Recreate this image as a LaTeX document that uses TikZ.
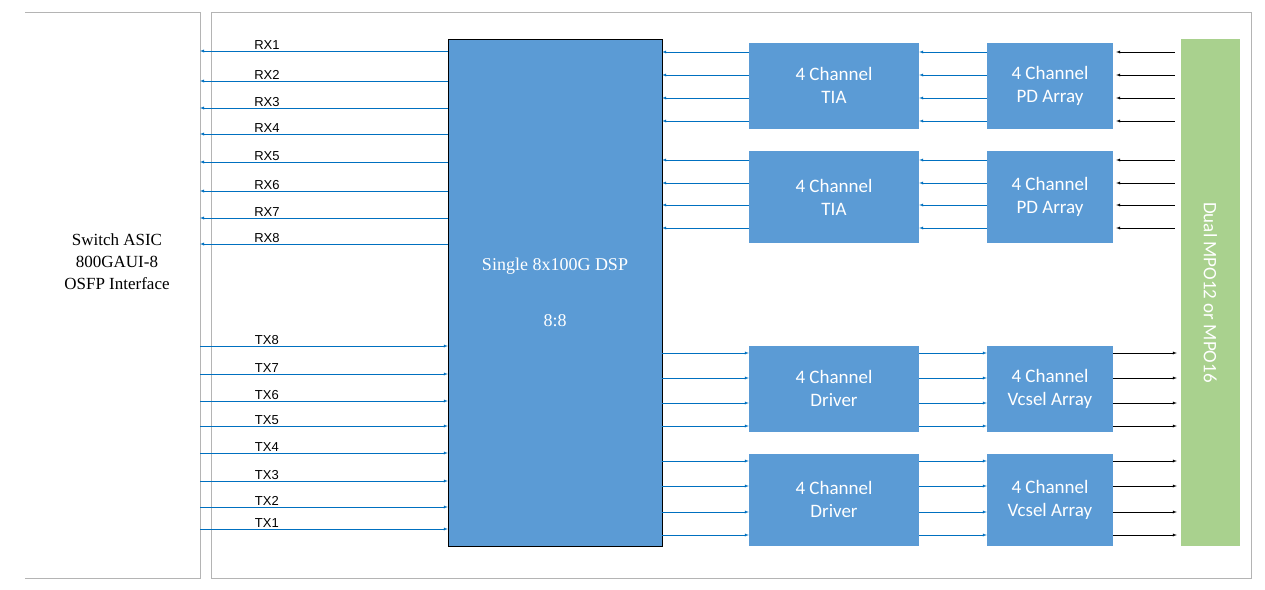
\documentclass[tikz,border=0pt]{standalone}
\usepackage{fontspec}
\setmainfont{Liberation Serif}
\setsansfont{Carlito}
\newfontfamily\arialfont{Liberation Sans}
\usepackage{tikz}
\usetikzlibrary{positioning}
\definecolor{boxblue}{RGB}{91,155,213}
\definecolor{lineblue}{RGB}{0,112,192}
\definecolor{fibergreen}{RGB}{169,209,142}
\definecolor{framegray}{RGB}{180,180,180}

\begin{document}
\begin{tikzpicture}[
    x=1pt, y=-1pt,
    block/.style={rectangle, draw=none, fill=boxblue, text=white, inner sep=0pt, font=\sffamily\fontsize{19}{23}\selectfont, align=center},
    lane/.style={draw=lineblue, -latex},
    fiber/.style={draw=black, -latex},
    lbl/.style={font=\arialfont\fontsize{13}{13}\selectfont, anchor=south, inner sep=1pt}
]
    \useasboundingbox (0,0) rectangle (1265,589);

    % Frames
    \draw[framegray, thick] (25,12) -- (200,12) -- (200,578) -- (25,578);
    \draw[framegray, thick] (211,12) rectangle (1251,578);
    \coordinate (asic) at (200,0);
    \node[align=center, font=\fontsize{17}{22}\selectfont] (asictext) at (117,262) {Switch ASIC\\800GAUI-8\\OSFP Interface};

    % DSP
    \node[block, draw=black, minimum width=214pt, minimum height=507pt] (dsp) at (555,292.5) {};
    \node[text=white, font=\fontsize{18}{22}\selectfont] (dsptext) at (555,266) {Single 8x100G DSP};
    \node[text=white, font=\fontsize{18}{22}\selectfont] (dspratio) at (555,321) {8:8};

    % Optics
    \node[block, minimum width=170pt, minimum height=86pt] (tia1) at (834,85.5) {4 Channel\\TIA};
    \node[block, minimum width=170pt, minimum height=92pt] (tia2) at (834,197) {4 Channel\\TIA};
    \node[block, minimum width=126pt, minimum height=86pt] (pd1) at (1050,85.5) {4 Channel\\PD Array};
    \node[block, minimum width=126pt, minimum height=92pt] (pd2) at (1050,197) {4 Channel\\PD Array};
    \node[block, minimum width=170pt, minimum height=86pt] (drv1) at (834,388.5) {4 Channel\\Driver};
    \node[block, minimum width=170pt, minimum height=92pt] (drv2) at (834,499.5) {4 Channel\\Driver};
    \node[block, minimum width=126pt, minimum height=86pt] (vcsel1) at (1050,388.5) {4 Channel\\Vcsel Array};
    \node[block, minimum width=126pt, minimum height=92pt] (vcsel2) at (1050,499.5) {4 Channel\\Vcsel Array};
    \node[block, fill=fibergreen, minimum width=59pt, minimum height=507pt] (mpo) at (1210.5,292.5) {};
    \node[rotate=-90, text=white, font=\sffamily\fontsize{19}{23}\selectfont] (mpotext) at (1210.5,292.5) {Dual MPO12 or MPO16};

    % Host lanes
    \foreach \y [count=\i] in {51,81,108,134,162,191,218,244} {
        \coordinate (row) at (0,\y);
        \draw[lane] (dsp.west |- row) -- node[lbl, pos=0.73] {RX\i} (asic |- row);
    }
    \foreach \y/\n in {346/8,374/7,401/6,426/5,453/4,481/3,507/2,529/1} {
        \coordinate (row) at (0,\y);
        \draw[lane] (asic |- row) -- node[lbl, pos=0.27] {TX\n} (dsp.west |- row);
    }

    % Receive path
    \foreach \y in {52,75,98,121} {
        \coordinate (row) at (0,\y);
        \draw[lane] (tia1.west |- row) -- (dsp.east |- row);
        \draw[lane] (pd1.west |- row) -- (tia1.east |- row);
        \draw[fiber] ([xshift=-6pt]mpo.west |- row) -- ([xshift=3pt]pd1.east |- row);
    }
    \foreach \y in {160,183,205,228} {
        \coordinate (row) at (0,\y);
        \draw[lane] (tia2.west |- row) -- (dsp.east |- row);
        \draw[lane] (pd2.west |- row) -- (tia2.east |- row);
        \draw[fiber] ([xshift=-6pt]mpo.west |- row) -- ([xshift=3pt]pd2.east |- row);
    }

    % Transmit path
    \foreach \y in {353,378,403,426} {
        \coordinate (row) at (0,\y);
        \draw[lane] (dsp.east |- row) -- (drv1.west |- row);
        \draw[lane] (drv1.east |- row) -- (vcsel1.west |- row);
        \draw[fiber] (vcsel1.east |- row) -- ([xshift=-4pt]mpo.west |- row);
    }
    \foreach \y in {461,486,512,535} {
        \coordinate (row) at (0,\y);
        \draw[lane] (dsp.east |- row) -- (drv2.west |- row);
        \draw[lane] (drv2.east |- row) -- (vcsel2.west |- row);
        \draw[fiber] (vcsel2.east |- row) -- ([xshift=-4pt]mpo.west |- row);
    }
\end{tikzpicture}
\end{document}
